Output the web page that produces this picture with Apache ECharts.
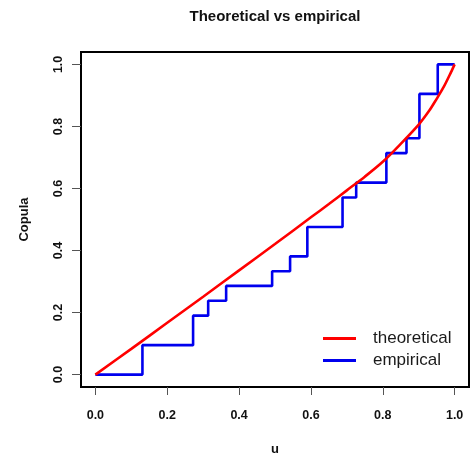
<!DOCTYPE html>
<html>
<head>
<meta charset="utf-8">
<script src="https://cdn.jsdelivr.net/npm/echarts@6/dist/echarts.min.js"></script>
<style>
html,body{margin:0;padding:0;background:#fff;}
#chart{width:475px;height:456px;}
</style>
</head>
<body>
<div id="chart"></div>
<script>
// Theoretical curve (diagonal of copula)
var theoU = [0, 0.1, 0.2, 0.3, 0.4, 0.5, 0.6, 0.65, 0.7, 0.75, 0.8, 0.85, 0.9, 0.93, 0.95, 0.97, 0.99, 1.0];
var theoV = [0, 0.083, 0.167, 0.251, 0.336, 0.421, 0.507, 0.55, 0.594, 0.638, 0.686, 0.744, 0.806, 0.852, 0.889, 0.928, 0.975, 1.0];
// Empirical step function: jump locations and levels
var empU = [0, 0.131, 0.272, 0.314, 0.364, 0.492, 0.542, 0.59, 0.688, 0.726, 0.81, 0.866, 0.902, 0.953, 1.0];
var empV = [0, 0.095, 0.19, 0.238, 0.286, 0.333, 0.381, 0.476, 0.571, 0.619, 0.714, 0.762, 0.905, 1.0, 1.0];
var tickVals = [0, 0.2, 0.4, 0.6, 0.8, 1.0];
var tickLabels = ['0.0', '0.2', '0.4', '0.6', '0.8', '1.0'];
var seriesNames = ['theoretical', 'empirical'];

var font = '"Liberation Sans", Arial, Helvetica, sans-serif';
function zip(a, b) { return a.map(function (x, i) { return [x, b[i]]; }); }
function fmt(v) { var i = tickVals.findIndex(function (t) { return Math.abs(t - v) < 1e-9; }); return i >= 0 ? tickLabels[i] : ''; }

var chart = echarts.init(document.getElementById('chart'), null, { renderer: 'canvas' });
chart.setOption({
  animation: false,
  backgroundColor: '#ffffff',
  title: {
    text: 'Theoretical vs empirical',
    left: 275, top: 9, padding: 0, textAlign: 'center',
    textStyle: { fontFamily: font, fontWeight: 'bold', fontSize: 15, color: '#111' }
  },
  legend: {
    orient: 'vertical', left: 323, top: 330, padding: 0, itemGap: 5,
    itemWidth: 33, itemHeight: 3,
    icon: 'path://M0,0H33V3H0Z',
    data: seriesNames,
    textStyle: { fontFamily: font, fontSize: 17, color: '#1a1a1a', padding: [0, 0, 0, 12] }
  },
  grid: { left: 81, right: 6, top: 52, bottom: 69, show: true, borderColor: '#000', borderWidth: 2, backgroundColor: 'transparent', containLabel: false, outerBoundsMode: 'none' },
  xAxis: {
    type: 'value', min: -0.04, max: 1.04,
    name: 'u', nameLocation: 'middle', nameGap: 56,
    nameTextStyle: { fontFamily: font, fontWeight: 'bold', fontSize: 13, color: '#111' },
    axisLine: { show: true, onZero: false, lineStyle: { color: '#000', width: 2 } },
    splitLine: { show: false },
    axisTick: { show: true, inside: false, customValues: tickVals, length: 8, lineStyle: { color: '#555', width: 1 } },
    axisLabel: { customValues: tickVals, formatter: fmt, margin: 22, fontFamily: font, fontWeight: 'bold', fontSize: 12.5, color: '#111' }
  },
  yAxis: {
    type: 'value', min: -0.04, max: 1.04,
    name: 'Copula', nameLocation: 'middle', nameGap: 50, nameRotate: 90,
    nameTextStyle: { fontFamily: font, fontWeight: 'bold', fontSize: 13, color: '#111' },
    axisLine: { show: true, onZero: false, lineStyle: { color: '#000', width: 2 } },
    splitLine: { show: false },
    axisTick: { show: true, inside: false, customValues: tickVals, length: 9, lineStyle: { color: '#555', width: 1 } },
    axisLabel: { customValues: tickVals, formatter: fmt, rotate: 90, margin: 16, fontFamily: font, fontWeight: 'bold', fontSize: 12.5, color: '#111' }
  },
  series: [
    {
      name: seriesNames[0], type: 'line', data: zip(theoU, theoV), smooth: 0.3,
      showSymbol: false, symbol: 'none',
      lineStyle: { color: '#ff0000', width: 2.6 }, itemStyle: { color: '#ff0000' }, z: 3
    },
    {
      name: seriesNames[1], type: 'line', data: zip(empU, empV), step: 'end',
      showSymbol: false, symbol: 'none',
      lineStyle: { color: '#0000ee', width: 2.6 }, itemStyle: { color: '#0000ee' }, z: 2
    }
  ]
});
</script>
</body>
</html>
